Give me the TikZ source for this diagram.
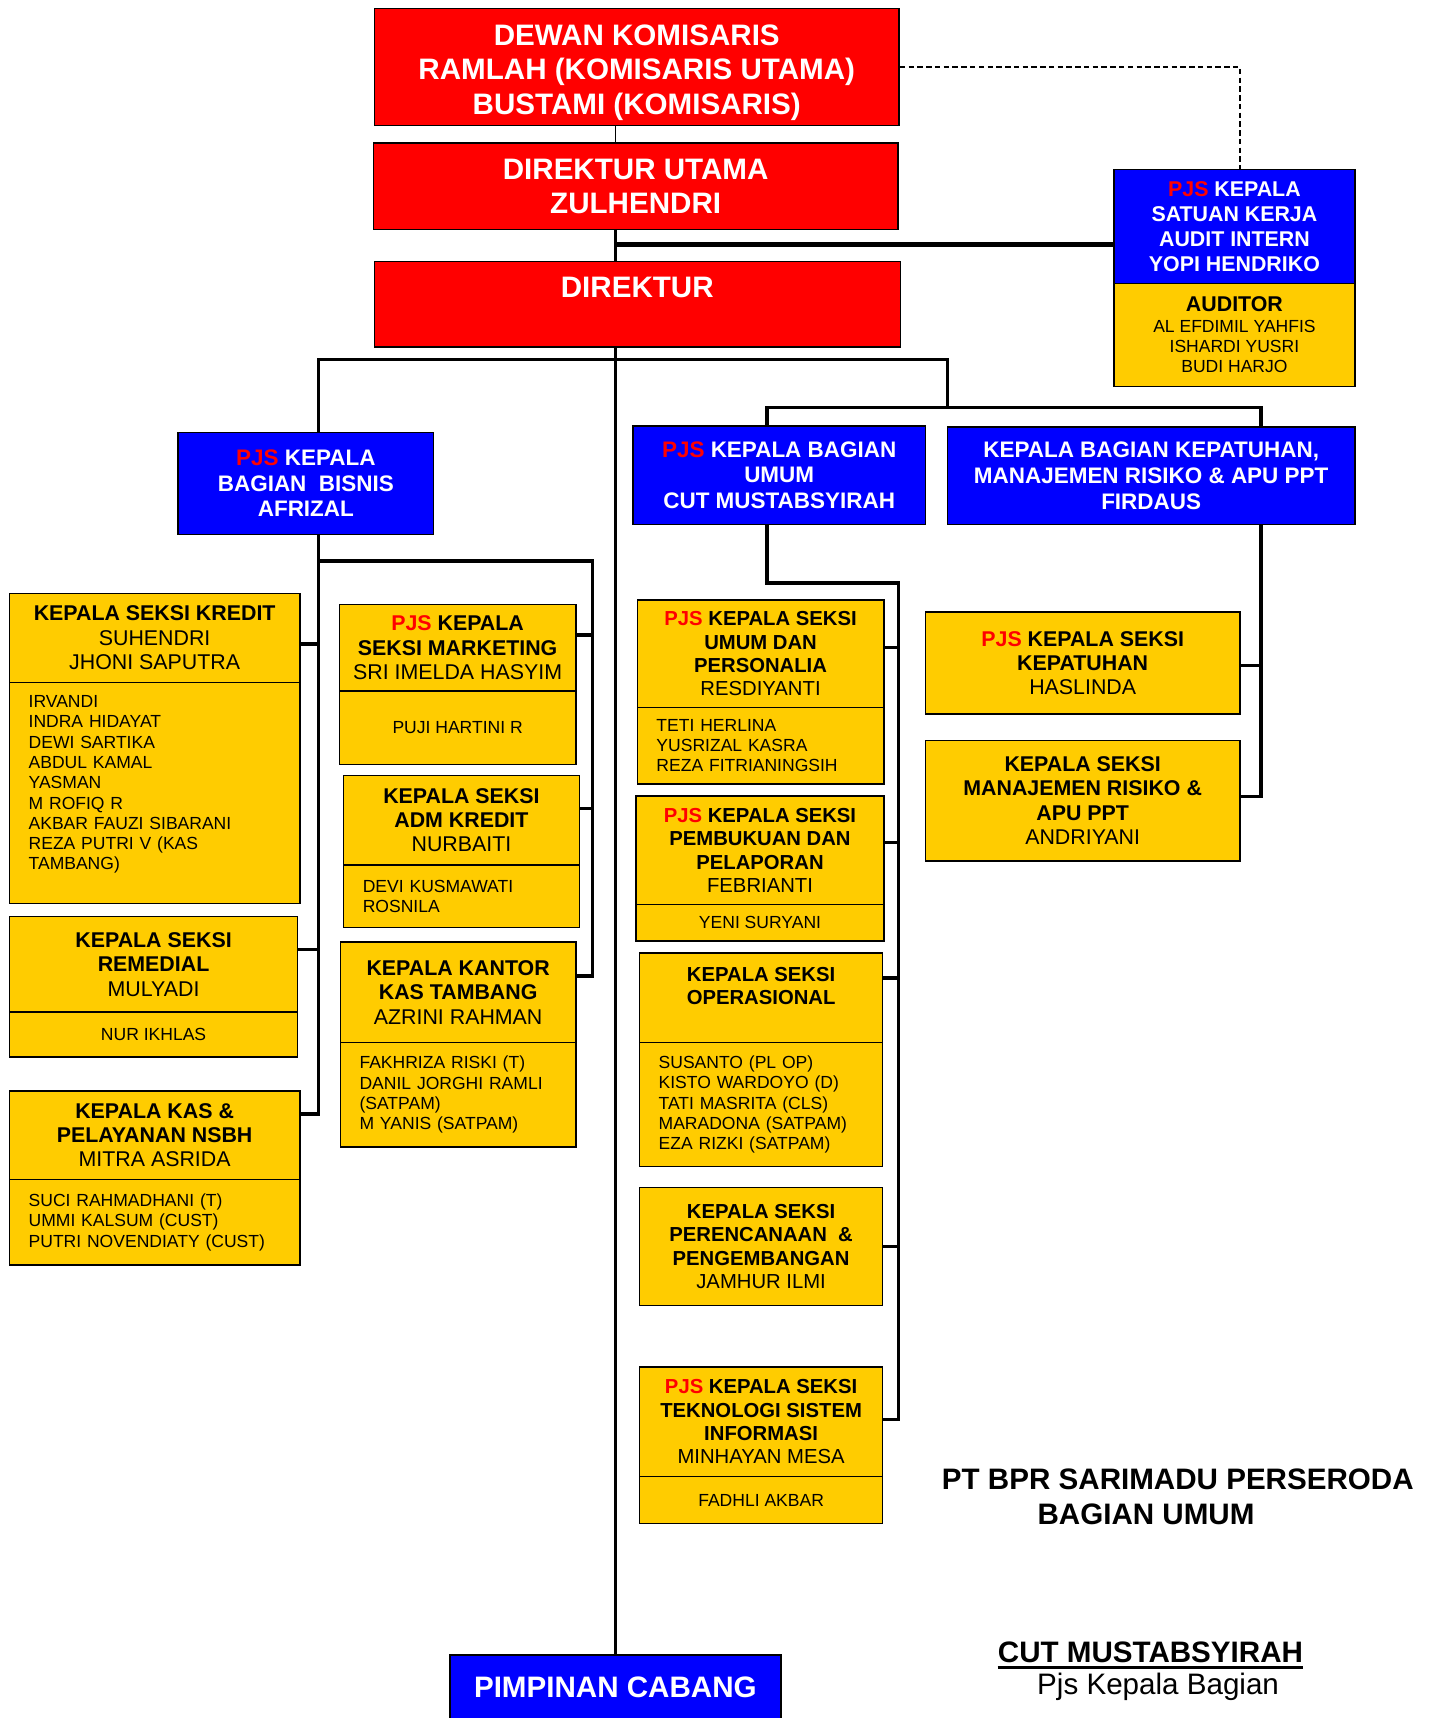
\documentclass[tikz,border=0pt]{standalone}
\usepackage{fontspec}
\setmainfont{Liberation Sans}
\usepackage{tikz}
\definecolor{bpred}{RGB}{255,0,0}
\definecolor{bpblue}{RGB}{0,0,255}
\definecolor{bpyellow}{RGB}{255,204,0}
\newcommand{\pjs}{\textcolor{bpred}{PJS}}
\tikzset{
  orgbox/.style={draw=black, line width=1.3pt, rectangle, anchor=north west, inner sep=0pt, align=center},
  wh/.style 2 args={minimum width=#1, minimum height=#2},
  redbox/.style={orgbox, fill=bpred, text=white, font=\fontsize{27}{31.5}\selectfont\bfseries},
  bluebox/.style={orgbox, fill=bpblue, text=white, font=\fontsize{20.5}{23.5}\selectfont\bfseries},
  seksibox/.style={orgbox, fill=bpyellow, font=\fontsize{19.5}{22.2}\selectfont},
  umumbox/.style={orgbox, fill=bpyellow, font=\fontsize{18.5}{21.3}\selectfont},
  stafbox/.style={orgbox, fill=bpyellow, font=\fontsize{16}{18.5}\selectfont},
  stafliste/.style={stafbox, align=left, text width=#1},
  link/.style={line width=3pt},
  judul/.style={inner sep=0pt, font=\fontsize{27}{31}\selectfont\bfseries}
}

\begin{document}
\begin{tikzpicture}[x=1pt, y=-1pt]
	\useasboundingbox (0,0) rectangle (1311,1568);
	% pimpinan
	\node[redbox, wh={479}{107}] (dewan) at (341,7) {\rule{0pt}{29pt}DEWAN KOMISARIS\\RAMLAH (KOMISARIS UTAMA)\\BUSTAMI (KOMISARIS)};
	\node[redbox, wh={479}{79}] (dirut) at (340,130) {DIREKTUR UTAMA\\ZULHENDRI};
	\node[redbox, wh={480}{78}] (direktur) at (341,238) {DIREKTUR\\~};
	\node[bluebox, wh={220}{104}, font=\fontsize{19.5}{22.7}\selectfont\bfseries] (spi) at (1016,154) {\pjs{} KEPALA\\SATUAN KERJA\\AUDIT INTERN\\YOPI HENDRIKO};
	\node[stafbox, wh={220}{94}] (auditor) at (1016,258) {{\fontsize{19.5}{22}\selectfont\bfseries AUDITOR}\\AL EFDIMIL YAHFIS\\ISHARDI YUSRI\\BUDI HARJO};
	\node[bluebox, wh={302}{58}, font=\fontsize{27}{31}\selectfont\bfseries] (pimpinan) at (410,1510) {PIMPINAN CABANG};

	% bagian
	\node[bluebox, wh={233}{93}] (bisnis) at (162,394) {\pjs{} KEPALA\\BAGIAN\ \ BISNIS\\AFRIZAL};
	\node[bluebox, wh={267}{90}] (umum) at (577,388) {\pjs{} KEPALA BAGIAN\\UMUM\\CUT MUSTABSYIRAH};
	\node[bluebox, wh={372}{89}] (kepatuhan) at (864,389) {KEPALA BAGIAN KEPATUHAN,\\MANAJEMEN RISIKO \& APU PPT\\FIRDAUS};

	% seksi bisnis
	\node[seksibox, wh={265}{81}] (kredit) at (8,541) {\textbf{KEPALA SEKSI KREDIT}\\SUHENDRI\\JHONI SAPUTRA};
	\node[stafliste=230pt, wh={265}{202}] (kreditstaf) at (8,622) {IRVANDI\\INDRA HIDAYAT\\DEWI SARTIKA\\ABDUL KAMAL\\YASMAN\\M ROFIQ R\\AKBAR FAUZI SIBARANI\\REZA PUTRI V (KAS\\TAMBANG)\\~};
	\node[seksibox, wh={263}{87}] (remedial) at (8,836) {\textbf{KEPALA SEKSI}\\\textbf{REMEDIAL}\\MULYADI};
	\node[stafbox, wh={263}{41}] (remedialstaf) at (8,923) {NUR IKHLAS};
	\node[seksibox, wh={265}{81}] (nsbh) at (8,995) {\textbf{KEPALA KAS \&}\\\textbf{PELAYANAN NSBH}\\MITRA ASRIDA};
	\node[stafliste=230pt, wh={265}{78}] (nsbhstaf) at (8,1076) {SUCI RAHMADHANI (T)\\UMMI KALSUM (CUST)\\PUTRI NOVENDIATY (CUST)};

	\node[seksibox, wh={216}{79}] (marketing) at (309,551) {\textbf{\pjs{} KEPALA}\\\textbf{SEKSI MARKETING}\\SRI IMELDA HASYIM};
	\node[stafbox, wh={216}{67}] (marketingstaf) at (309,630) {PUJI HARTINI R};
	\node[seksibox, wh={215}{82}] (admkredit) at (313,707) {\textbf{KEPALA SEKSI}\\\textbf{ADM KREDIT}\\NURBAITI};
	\node[stafliste=180pt, wh={215}{57}] (admkreditstaf) at (313,789) {DEVI KUSMAWATI\\ROSNILA};
	\node[seksibox, wh={215}{92}] (kantorkas) at (310,859) {\textbf{KEPALA KANTOR}\\\textbf{KAS TAMBANG}\\AZRINI RAHMAN};
	\node[stafliste=180pt, wh={215}{95}] (kantorkasstaf) at (310,951) {FAKHRIZA RISKI (T)\\DANIL JORGHI RAMLI\\(SATPAM)\\M YANIS (SATPAM)};

	% seksi umum
	\node[umumbox, wh={225}{98}] (personalia) at (581,547) {\textbf{\pjs{} KEPALA SEKSI}\\\textbf{UMUM DAN}\\\textbf{PERSONALIA}\\RESDIYANTI};
	\node[stafliste=190pt, wh={225}{70}] (personaliastaf) at (581,645) {TETI HERLINA\\YUSRIZAL KASRA\\REZA FITRIANINGSIH};
	\node[umumbox, wh={226}{99}] (pembukuan) at (580,726) {\textbf{\pjs{} KEPALA SEKSI}\\\textbf{PEMBUKUAN DAN}\\\textbf{PELAPORAN}\\FEBRIANTI};
	\node[stafbox, wh={226}{33}] (pembukuanstaf) at (580,825) {YENI SURYANI};
	\node[umumbox, wh={222}{82}] (operasional) at (583,869) {\textbf{KEPALA SEKSI}\\\textbf{OPERASIONAL}\\~};
	\node[stafliste=187pt, wh={222}{113}] (operasionalstaf) at (583,951) {SUSANTO (PL OP)\\KISTO WARDOYO (D)\\TATI MASRITA (CLS)\\MARADONA (SATPAM)\\EZA RIZKI (SATPAM)};
	\node[umumbox, wh={222}{108}] (perencanaan) at (583,1083) {\textbf{KEPALA SEKSI}\\\textbf{PERENCANAAN\ \ \&}\\\textbf{PENGEMBANGAN}\\JAMHUR ILMI};
	\node[umumbox, wh={222}{100}] (tsi) at (583,1247) {\textbf{\pjs{} KEPALA SEKSI}\\\textbf{TEKNOLOGI SISTEM}\\\textbf{INFORMASI}\\MINHAYAN MESA};
	\node[stafbox, wh={222}{43}] (tsistaf) at (583,1347) {FADHLI AKBAR};

	% seksi kepatuhan
	\node[seksibox, wh={287}{93}] (kepatuhanseksi) at (844,558) {\textbf{\pjs{} KEPALA SEKSI}\\\textbf{KEPATUHAN}\\HASLINDA};
	\node[seksibox, wh={287}{110}] (risiko) at (844,675) {\textbf{KEPALA SEKSI}\\\textbf{MANAJEMEN RISIKO \&}\\\textbf{APU PPT}\\ANDRIYANI};

	% garis
	\coordinate (auditjoin) at (561,223);
	\coordinate (barkiri) at (291,328);
	\coordinate (barkanan) at (865,328);
	\coordinate (barumum) at (700,372);
	\coordinate (barpatuh) at (1151,372);
	\coordinate (bariskanan) at (541,512);
	\coordinate (umumtrunk) at (820,532);
	\draw[line width=1.5pt] (dewan.south -| pimpinan.north) -- (dirut.north -| pimpinan.north);
	\draw[link] (dirut.south -| pimpinan.north) -- (direktur.north -| pimpinan.north);
	\draw[link] (direktur.south -| pimpinan.north) -- (pimpinan.north);
	\draw[line width=4pt] (auditjoin) -- (auditjoin -| spi.west);
	\draw[line width=1.3pt, dash pattern=on 5pt off 3pt] (dewan.east) -| ([xshift=5]spi.north);
	\draw[link] (barkiri |- bisnis.north) -- (barkiri) -- (barkanan) -- (barkanan |- barumum);
	\draw[link] (barumum |- umum.north) -- (barumum) -- (barpatuh) -- (barpatuh |- kepatuhan.north);

	\draw[link] (barkiri |- bisnis.south) |- ([yshift=19.5]nsbh.east);
	\draw[link] ([yshift=-5.5]kredit.east) -- ++(18,0);
	\draw[link] ([yshift=13.5]remedial.east) -- ++(20,0);
	\draw[link] (barkiri |- bariskanan) -- (bariskanan) |- ([yshift=15]kantorkas.east);
	\draw[link] ([yshift=11.5]marketing.east) -- ++(16,0);
	\draw[link] ([yshift=11]admkredit.east) -- ++(13,0);

	\draw[link] (barumum |- umum.south) |- (umumtrunk) |- ([yshift=2]tsi.east);
	\draw[link] ([yshift=6]personalia.east) -- ++(14,0);
	\draw[link] ([yshift=7.5]pembukuan.east) -- ++(14,0);
	\draw[link] ([yshift=18]operasional.east) -- ++(15,0);
	\draw[link] (perencanaan.east) -- ++(15,0);

	\draw[link] (barpatuh |- kepatuhan.south) |- ([yshift=4]risiko.east);
	\draw[link] ([yshift=-2.5]kepatuhanseksi.east) -- ++(20,0);

	% keterangan
	\node[judul] (perusahaan) at (1075,1350) {PT BPR SARIMADU PERSERODA};
	\node[judul] (bagian) at (1046,1382) {BAGIAN UMUM};
	\node[judul] (ttdnama) at (1050,1508) {CUT MUSTABSYIRAH};
	\draw[line width=2.5pt] ([yshift=-4]ttdnama.south west) -- ([yshift=-4]ttdnama.south east);
	\node[font=\fontsize{27}{31}\selectfont] (ttdjabatan) at (1057,1540) {Pjs Kepala Bagian};
\end{tikzpicture}
\end{document}
